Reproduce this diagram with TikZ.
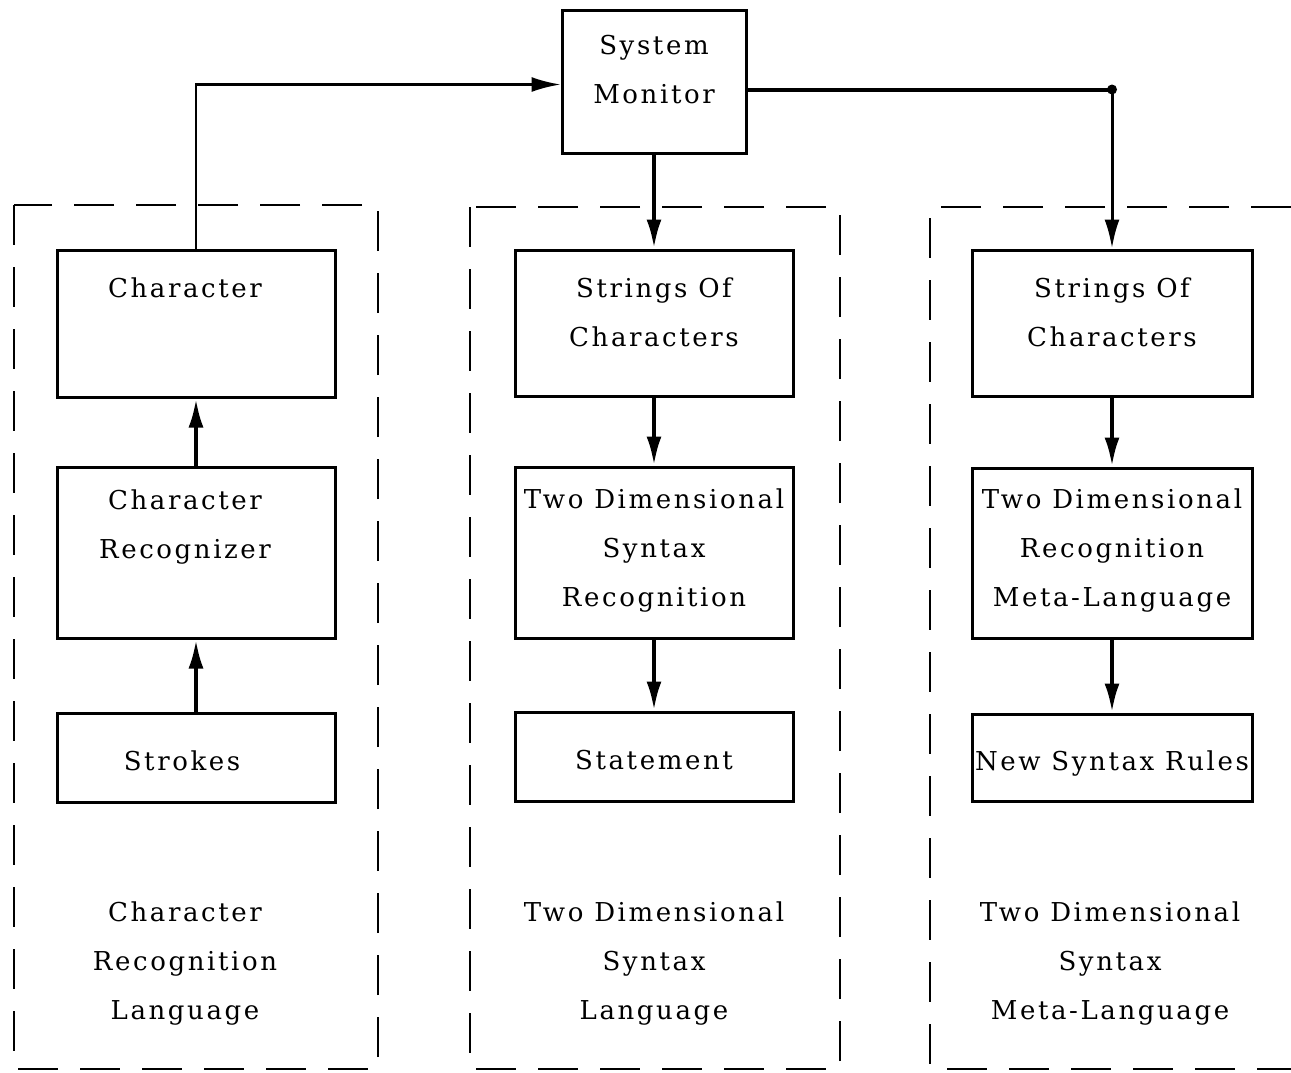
\documentclass[tikz,border=0pt]{standalone}
\usepackage{fontspec}
\setmainfont{DejaVu Serif}[LetterSpace=10]
\usepackage{tikz}
\usetikzlibrary{positioning,arrows.meta}
\newcommand{\boxtext}[2][0pt]{\raisebox{#1}[\height][\depth]{\begin{tabular}{@{}c@{}}#2\end{tabular}}}

\begin{document}
\begin{tikzpicture}[x=1pt,y=-1pt,>={Latex[length=29pt,width=15pt]},
    font=\fontsize{26}{49}\selectfont]
  \tikzstyle{blk}=[draw,line width=3pt,minimum width=278pt,inner sep=0pt]
  \tikzstyle{grp}=[line width=2.6pt,dash pattern=on 40pt off 22pt]
  \tikzstyle{flow}=[->,line width=4pt]
  \useasboundingbox (0,0) rectangle (1291,1072);
  % monitor
  \node[blk,minimum width=184pt,minimum height=143pt] (sm) at (654,81.5) {\boxtext[12pt]{System\\Monitor}};
  % character recognition language (text sits a little left)
  \node[blk,minimum height=147pt] (ch) at (196,323.5) {\boxtext[11pt]{Character\\ \mbox{}}\rule{22pt}{0pt}};
  \node[blk,minimum height=171pt,below=67pt of ch] (rec) {\boxtext[4pt]{Character\\Recognizer\\ \mbox{}}\rule{22pt}{0pt}};
  \node[blk,minimum height=89pt,below=72pt of rec] (stk) {\boxtext[-3pt]{Strokes}\rule{28pt}{0pt}};
  % syntax language
  \node[blk,minimum height=146pt] (str2) at (654,323) {\boxtext[11pt]{Strings Of\\Characters}};
  \node[blk,minimum height=171pt,below=68pt of str2] (syn) {\boxtext[5pt]{Two Dimensional\\Syntax\\Recognition}};
  \node[blk,minimum height=89pt,below=71pt of syn] (stm) {\boxtext[-3pt]{Statement}};
  % meta-language
  \node[blk,minimum height=146pt,minimum width=280pt] (str3) at (1112,323) {\boxtext[11pt]{Strings Of\\Characters}};
  \node[blk,minimum height=170pt,minimum width=280pt,below=69pt of str3] (meta) {\boxtext[5pt]{Two Dimensional\\Recognition\\Meta-Language}};
  \node[blk,minimum height=87pt,minimum width=280pt,below=73pt of meta] (rules) {\boxtext[-3pt]{New Syntax Rules}};
  % group captions
  \node (l1) at (185,961) {\boxtext{Character\\Recognition\\Language}};
  \node (l2) at (654,961) {\boxtext{Two Dimensional\\Syntax\\Language}};
  \node (l3) at (1110,961) {\boxtext{Two Dimensional\\Syntax\\Meta-Language}};
  % dashed groups
  \draw[grp] (14,205) rectangle (378,1069);
  \draw[grp] (470,207) rectangle (840,1069);
  \draw[grp] (1291,207) -- (930,207) -- (930,1069) -- (1291,1069);
  % connectors
  \draw[flow] (stk) -- (rec); \draw[flow] (rec) -- (ch);
  \draw[flow] (sm) -- (str2); \draw[flow] (str2) -- (syn); \draw[flow] (syn) -- (stm);
  \draw[flow] (str3) -- (meta); \draw[flow] (meta) -- (rules);
  \draw[->,line width=2.5pt] (ch.north) |- ([yshift=-3pt]sm.west);
  \coordinate (jn) at ([yshift=-8pt]sm.east -| str3.north);
  \draw[line width=4pt] ([yshift=-8pt]sm.east) -- (jn);
  \fill (jn) circle (5pt);
  \draw[flow,line width=3pt] (jn) -- (str3.north);
\end{tikzpicture}
\end{document}
